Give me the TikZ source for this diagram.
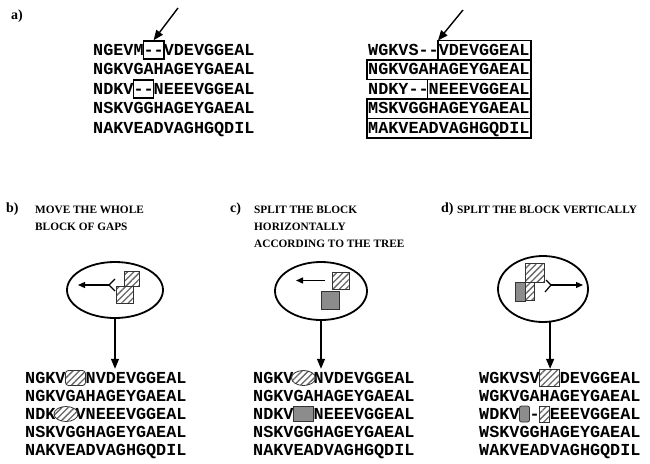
\documentclass[tikz,border=0pt]{standalone}
\usepackage{fontspec}
\setmainfont{Liberation Serif}
\newfontfamily\seqfont{Liberation Mono}
\usetikzlibrary{arrows.meta,shapes.geometric,patterns.meta}

\begin{document}
\begin{tikzpicture}[x=1pt, y=-1pt,
        seq/.style={
            anchor=west,
            inner sep=0pt,
            text height=10pt,
            text depth=0pt,
            font=\seqfont\bfseries\fontsize{16.8}{18}\selectfont
        },
        lab/.style={anchor=north west, inner sep=0pt, font=\bfseries\fontsize{14}{14}\selectfont},
        didasc/.style={anchor=north west, inner sep=0pt, align=left, font=\bfseries\fontsize{11.3}{17}\selectfont},
        nube/.style={draw, ellipse, line width=1.8pt, inner sep=0pt},
        tratt/.style={
            draw=black!80,
            line width=0.8pt,
            inner sep=0pt,
            pattern={Lines[angle=45, distance=4.5pt, line width=1.3pt]},
            pattern color=black!60
        },
        grigio/.style={draw=black!80, line width=0.8pt, inner sep=0pt, fill=black!45},
        bordo/.style={line width=1.6pt},
        freccia/.style={line width=1.4pt, -{Triangle[length=10pt, width=8pt]}},
        freccina/.style={line width=1.2pt, -{Triangle[length=7pt, width=6pt]}}
    ]
    \useasboundingbox (0,0) rectangle (650,463);

    % Parte a): allineamento di partenza
    \node[lab] (la) at (11,10) {a)};
    \foreach \s [count=\i] in {NGEVM-{}-VDEVGGEAL,NGKVGAHAGEYGAEAL,NDKV-{}-NEEEVGGEAL,NSKVGGHAGEYGAEAL,NAKVEADVAGHGQDIL} {
        \node[seq] (al\i) at (93, {50+19.5*(\i-1)}) {\s};
    }
    \node[draw, bordo, inner sep=0pt, minimum width=20.2, minimum height=18] (g1) at (153.6,50) {};
    \node[draw, bordo, inner sep=0pt, minimum width=20.2, minimum height=18] (g3) at (143.5,89) {};
    \coordinate (pa) at (178,8);
    \draw[freccia] (pa) -- (g1.north);

    % Parte a): blocchi di righe
    \foreach \s [count=\i] in {WGKVS-{}-VDEVGGEAL,NGKVGAHAGEYGAEAL,NDKY-{}-NEEEVGGEAL,MSKVGGHAGEYGAEAL,MAKVEADVAGHGQDIL} {
        \node[seq] (ar\i) at (368, {50+19.5*(\i-1)}) {\s};
    }
    \foreach \k/\i in {7/1,0/2,6/3,0/4,0/5} {
        \draw[bordo] ({367+10.1*\k}, {40.5+19.5*(\i-1)}) rectangle (531, {40.5+19.5*\i});
    }
    \coordinate (pb) at (463,10);
    \coordinate (rk) at (438,40.5);
    \draw[freccia] (pb) -- (rk);

    % Parte b)
    \node[lab] (lb) at (6,203) {b)};
    \node[didasc] (cb) at (35,206) {MOVE THE WHOLE\\BLOCK OF GAPS};
    \node[nube, minimum width=96, minimum height=56] (eb) at (115,290) {};
    \node[tratt, minimum size=15] (qb1) at (132,279) {};
    \node[tratt, minimum size=17] (qb2) at (125,295) {};
    \coordinate (fb) at (109,285);
    \coordinate (tb) at (78,285);
    \draw[line width=1.2pt] (fb) -- ++(6,-6) (fb) -- ++(6,6);
    \draw[freccina] (fb) -- (tb);
    \foreach \s [count=\i] in {NGKV~~NVDEVGGEAL,NGKVGAHAGEYGAEAL,NDK~~VNEEEVGGEAL,NSKVGGHAGEYGAEAL,NAKVEADVAGHGQDIL} {
        \node[seq] (bl\i) at (25, {378+18*(\i-1)}) {\s};
    }
    \node[tratt, rounded corners=3pt, minimum width=20, minimum height=15] (xb1) at (75.5,378) {};
    \node[tratt, ellipse, minimum width=24, minimum height=15] (xb3) at (66,414) {};
    \draw[freccia, shorten >=4pt] (eb) -- (eb |- bl1.north);

    % Parte c)
    \node[lab] (lc) at (230,203) {c)};
    \node[didasc] (cc) at (254,206) {SPLIT THE BLOCK\\HORIZONTALLY\\ACCORDING TO THE TREE};
    \node[nube, minimum width=92, minimum height=58] (ec) at (321,291) {};
    \node[tratt, minimum size=17] (qc1) at (341,280.5) {};
    \node[grigio, minimum size=18] (qc2) at (330,300) {};
    \coordinate (tc) at (296,280.5);
    \draw[freccina, shorten <=7pt] (qc1) -- (tc);
    \foreach \s [count=\i] in {NGKV~~NVDEVGGEAL,NGKVGAHAGEYGAEAL,NDKV~~NEEEVGGEAL,NSKVGGHAGEYGAEAL,NAKVEADVAGHGQDIL} {
        \node[seq] (cl\i) at (253, {378+18*(\i-1)}) {\s};
    }
    \node[tratt, ellipse, minimum width=24, minimum height=15] (xc1) at (303.5,378) {};
    \node[grigio, minimum width=20, minimum height=15] (xc3) at (303.5,414) {};
    \draw[freccia, shorten >=4pt] (ec) -- (ec |- cl1.north);

    % Parte d)
    \node[lab] (ld) at (441,203) {d)};
    \node[didasc] (cd) at (457,206) {SPLIT THE BLOCK VERTICALLY};
    \node[nube, minimum width=90, minimum height=66] (ed) at (543,289) {};
    \node[tratt, minimum size=19] (qd1) at (535,272.5) {};
    \node[tratt, minimum size=18] (qd2) at (525,291.5) {};
    \filldraw[fill=black!45, draw=black!80, line width=0.8pt] (qd2.north west) rectangle (qd2.south);
    \coordinate (fd) at (551,285);
    \coordinate (td) at (583,285);
    \draw[line width=1.2pt] (fd) -- ++(-5,-5) (fd) -- ++(-6,7);
    \draw[freccina] (fd) -- (td);
    \foreach \s [count=\i] in {WGKVSV~~DEVGGEAL,WGKVGAHAGEYGAEAL,WDKV~-~EEEVGGEAL,WSKVGGHAGEYGAEAL,WAKVEADVAGHGQDIL} {
        \node[seq] (dl\i) at (479, {378+18*(\i-1)}) {\s};
    }
    \node[tratt, minimum width=20, minimum height=17] (xd1) at (549.7,378) {};
    \node[grigio, rounded corners=2pt, minimum width=10, minimum height=16] (xd3a) at (524.5,414) {};
    \node[tratt, minimum width=10, minimum height=16] (xd3b) at (544.7,414) {};
    \draw[freccia, shorten >=4pt] (ed.-78) -- (ed.-78 |- dl1.north);
\end{tikzpicture}
\end{document}
